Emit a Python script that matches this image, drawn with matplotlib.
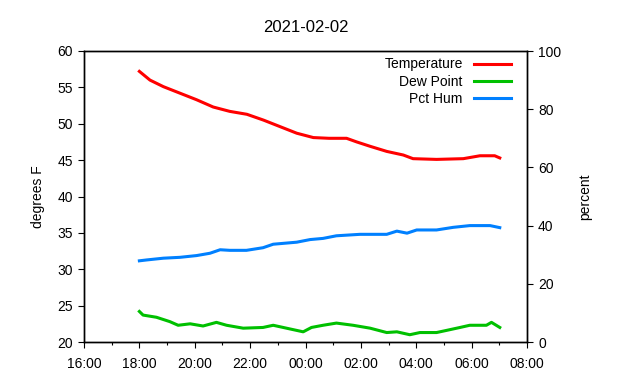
import datetime as dt
import matplotlib
matplotlib.use("Agg")
import matplotlib.pyplot as plt
import matplotlib.dates as mdates

# readings, hand-picked off the original chart
temp_times = ["18:00", "18:23", "18:52", "19:28", "20:04", "20:40", "21:16", "21:53",
              "22:29", "23:05", "23:41", "00:17", "00:51", "01:29", "01:51", "02:20",
              "02:56", "03:32", "03:53", "04:44", "05:42", "06:18", "06:50", "07:01"]
temp_vals = [57.2, 56.0, 55.1, 54.2, 53.3, 52.3, 51.7, 51.3,
             50.5, 49.6, 48.7, 48.1, 48.0, 48.0, 47.5, 46.9,
             46.2, 45.7, 45.2, 45.1, 45.2, 45.6, 45.6, 45.3]

dew_times = ["18:00", "18:08", "18:37", "19:06", "19:24", "19:50", "20:18", "20:47",
             "21:09", "21:45", "22:28", "22:50", "23:26", "23:55", "00:13", "00:38",
             "01:07", "01:43", "02:20", "02:56", "03:18", "03:46", "04:08", "04:44",
             "05:06", "05:35", "05:56", "06:32", "06:43", "07:01"]
dew_vals = [24.2, 23.7, 23.4, 22.8, 22.3, 22.5, 22.2, 22.7,
            22.3, 21.9, 22.0, 22.3, 21.8, 21.4, 22.0, 22.3,
            22.6, 22.3, 21.9, 21.3, 21.4, 21.0, 21.3, 21.3,
            21.6, 22.0, 22.3, 22.3, 22.7, 22.0]

hum_times = ["18:00", "18:16", "18:52", "19:28", "20:04", "20:33", "20:55", "21:16",
             "21:52", "22:28", "22:50", "23:41", "00:10", "00:38", "01:07", "01:58",
             "02:56", "03:18", "03:40", "04:01", "04:44", "05:20", "05:56", "06:40", "07:01"]
hum_vals = [27.9, 28.2, 28.8, 29.1, 29.7, 30.5, 31.7, 31.5,
            31.5, 32.4, 33.6, 34.3, 35.2, 35.6, 36.5, 37.0,
            37.0, 38.1, 37.4, 38.5, 38.5, 39.4, 40.0, 40.0, 39.3]


def to_dt(times):
    out = []
    for t in times:
        h, m = map(int, t.split(":"))
        day = 1 if h >= 12 else 2
        out.append(dt.datetime(2021, 2, day, h, m))
    return out


plt.rcParams["font.family"] = ["Liberation Sans", "DejaVu Sans"]
plt.rcParams["font.size"] = 10

fig = plt.figure(figsize=(6.4, 3.8), dpi=100)
ax = fig.add_axes([84 / 640, 38 / 380, 443 / 640, 291 / 380])
ax2 = ax.twinx()

l1, = ax.plot(to_dt(temp_times), temp_vals, color="#ff0000", lw=2.2, label="Temperature")
l2, = ax.plot(to_dt(dew_times), dew_vals, color="#00c000", lw=2.2, label="Dew Point")
l3, = ax2.plot(to_dt(hum_times), hum_vals, color="#0080ff", lw=2.2, label="Pct Hum")

ax.set_xlim(dt.datetime(2021, 2, 1, 16, 0), dt.datetime(2021, 2, 2, 8, 0))
ax.set_ylim(20, 60)
ax2.set_ylim(0, 100)
ax.xaxis.set_major_locator(mdates.HourLocator(byhour=range(0, 24, 2)))
ax.xaxis.set_minor_locator(mdates.HourLocator(byhour=range(1, 24, 2)))
ax.xaxis.set_major_formatter(mdates.DateFormatter("%H:%M"))
ax.set_yticks(range(20, 61, 5))
ax2.set_yticks(range(0, 101, 20))

ax.tick_params(axis="both", which="major", direction="out", length=4.5, width=0.8, colors="black")
ax.tick_params(axis="x", which="minor", direction="out", length=2.5, width=0.8)
ax.tick_params(axis="x", pad=6)
ax2.tick_params(direction="out", length=4.5, width=0.8)
for a in (ax, ax2):
    for s in a.spines.values():
        s.set_linewidth(1.0)

ax.set_ylabel("degrees F", labelpad=9)
ax2.set_ylabel("percent", labelpad=12)
ax.set_title("2021-02-02", pad=14)

ax.legend(handles=[l1, l2, l3], loc="upper right", bbox_to_anchor=(0.977, 0.997),
          frameon=False, markerfirst=False, handlelength=2.7, labelspacing=0.23,
          borderaxespad=0, handletextpad=0.8)

fig.savefig("out.png", dpi=100)
